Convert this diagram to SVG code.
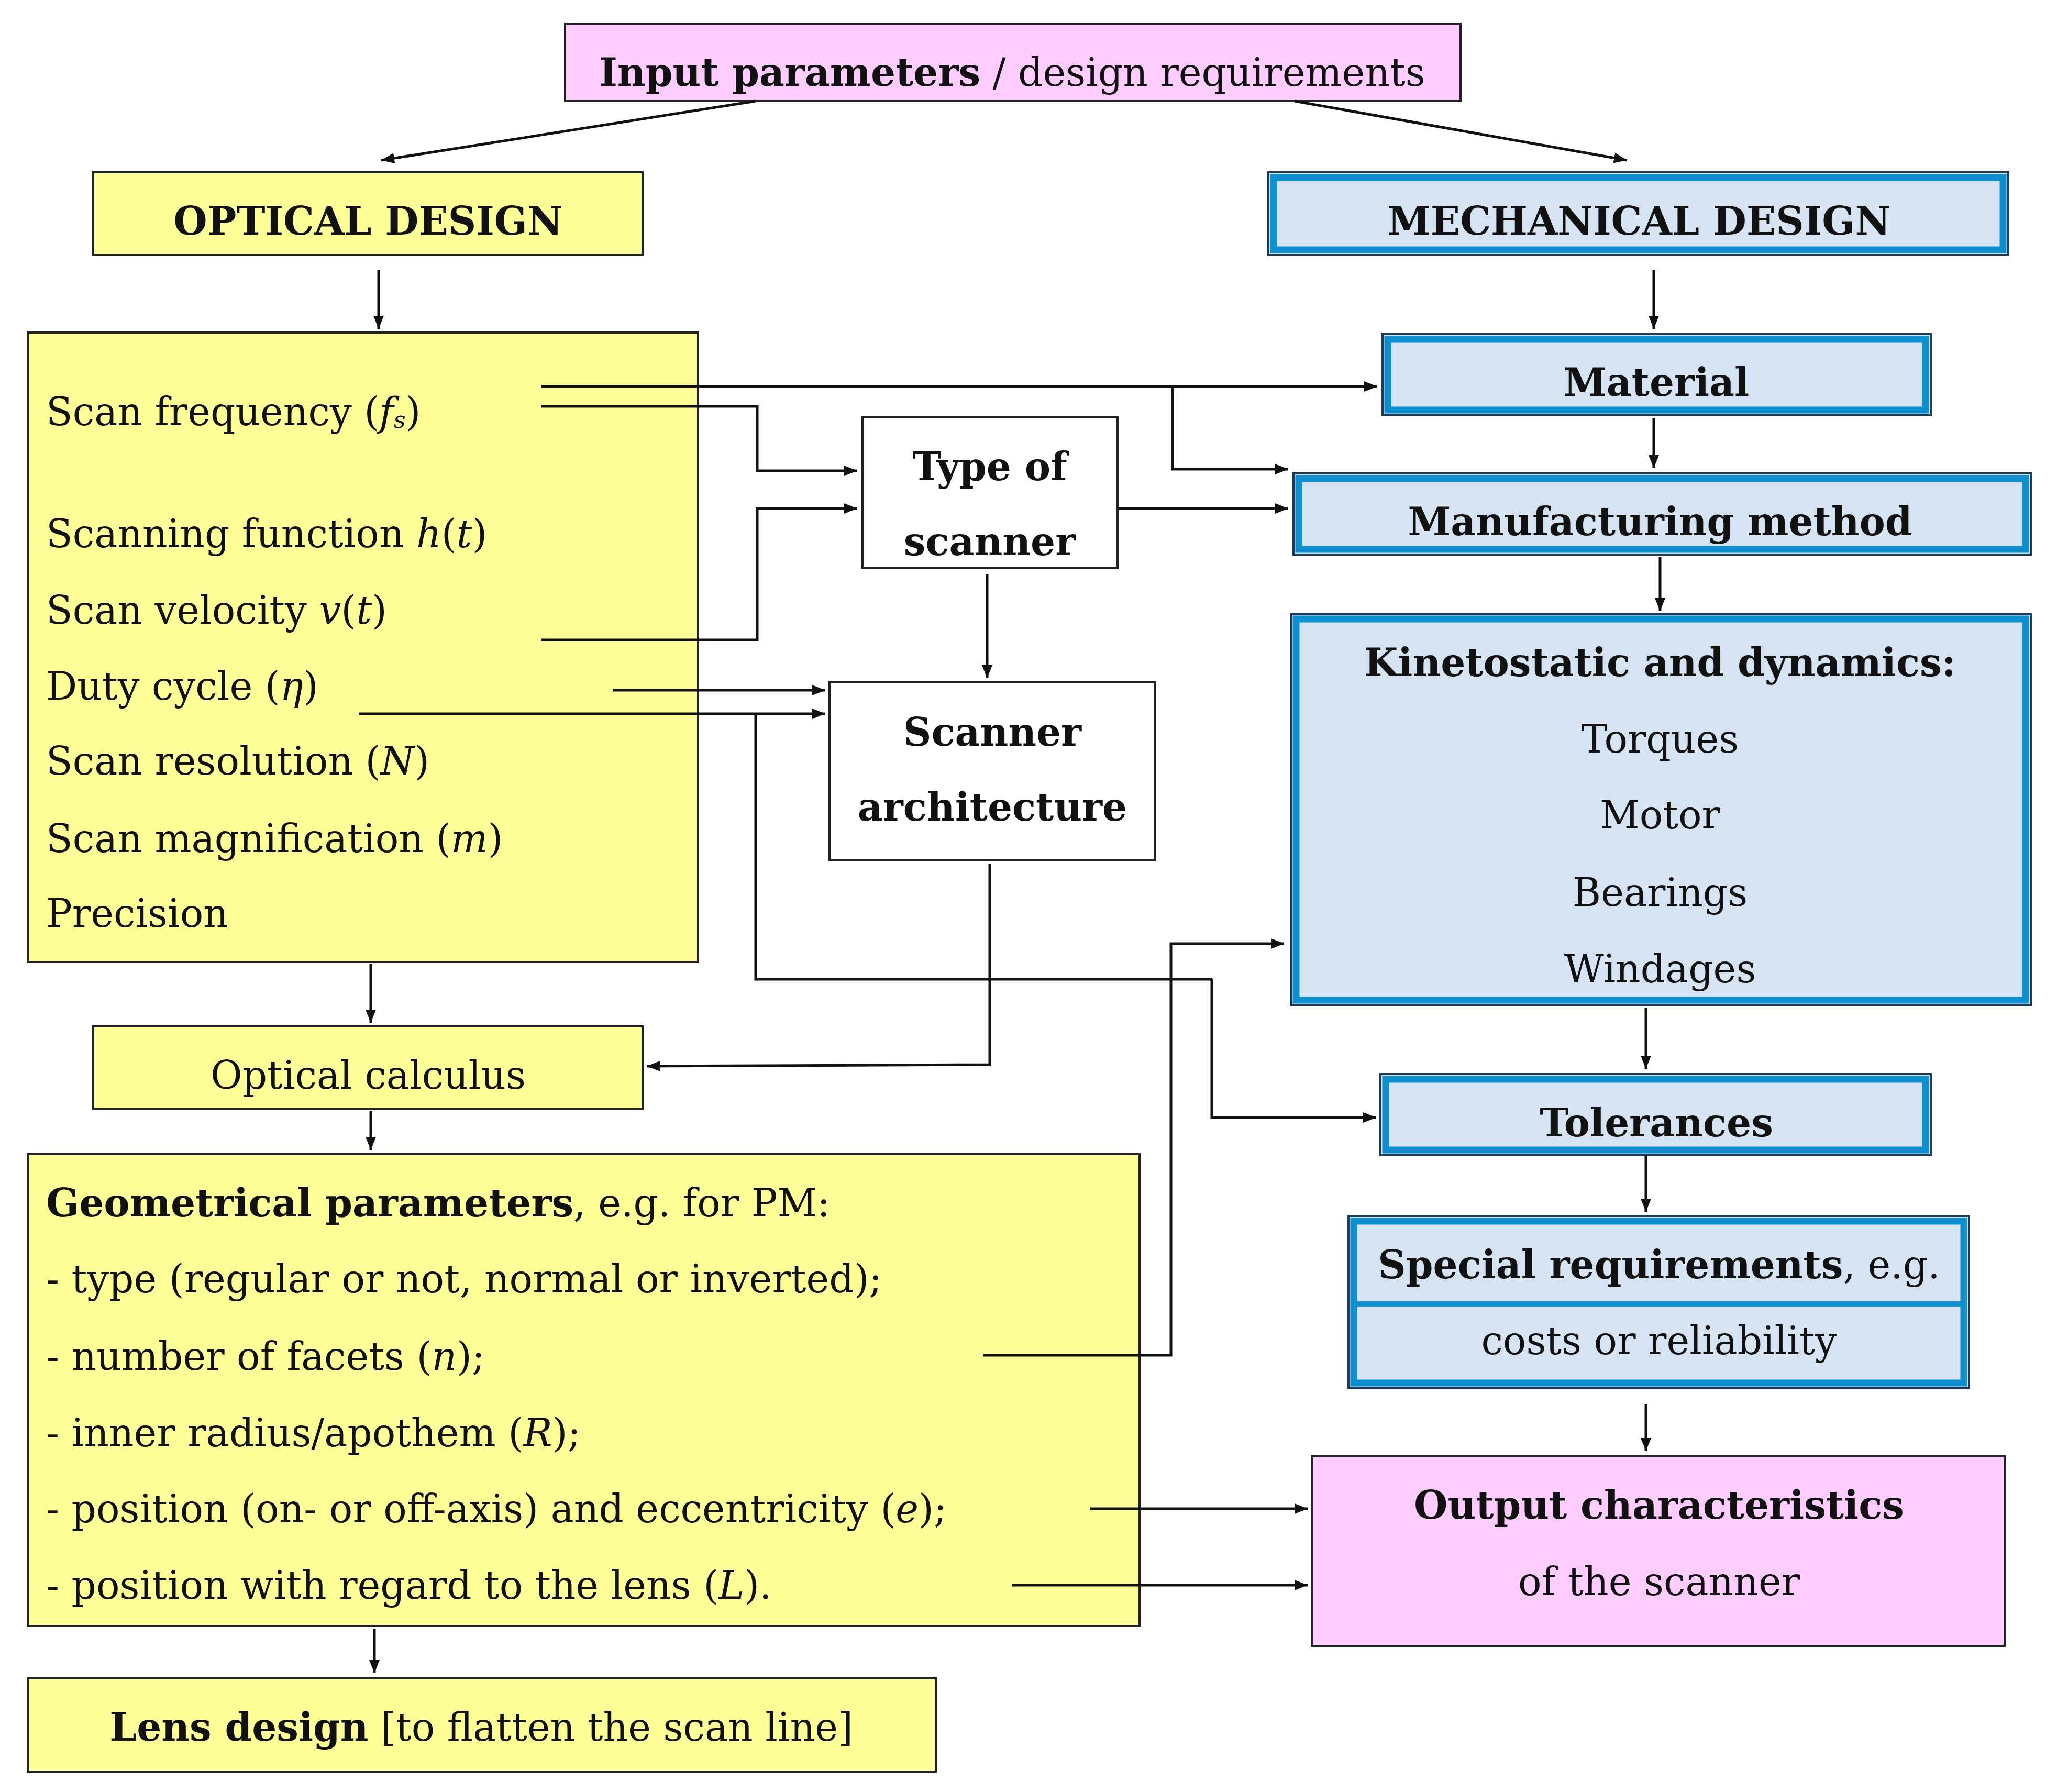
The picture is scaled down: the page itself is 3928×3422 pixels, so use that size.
<svg xmlns="http://www.w3.org/2000/svg" width="3928" height="3422" viewBox="0 0 3928 3422">
<style>
text{font-family:"DejaVu Serif","Liberation Serif",serif;font-size:74px;fill:#111;dominant-baseline:central}
.c{text-anchor:middle}
.b{font-weight:bold}
.i{font-style:italic}
.y{fill:#FFFF99;stroke:#222;stroke-width:4}
.p{fill:#FFCCFF;stroke:#222;stroke-width:4}
.w{fill:#fff;stroke:#222;stroke-width:4}
.bo{fill:#D5E3F3;stroke:#1E3A5A;stroke-width:4}
.bi{fill:none;stroke:#0E8FD0;stroke-width:13}
.l{fill:none;stroke:#111;stroke-width:5;marker-end:url(#a)}
.n{fill:none;stroke:#111;stroke-width:5}
</style>
<defs><marker id="a" viewBox="0 0 10 10" refX="10" refY="5" markerWidth="5" markerHeight="5" orient="auto" markerUnits="strokeWidth"><path d="M0,1 L10,5 L0,9 z" fill="#111"/></marker></defs>
<rect width="3928" height="3422" fill="#fff"/>
<g id="input"><rect class="p" x="1079" y="45" width="1710" height="148"/><text class="c" x="1933" y="138"><tspan class="b">Input parameters</tspan> / design requirements</text></g>
<g id="optical"><rect class="y" x="178" y="329" width="1049" height="158"/><text class="c b" x="703" y="422">OPTICAL DESIGN</text></g>
<g id="mechanical"><rect class="bo" x="2422" y="329" width="1413" height="158"/><rect class="bi" x="2432" y="339" width="1393" height="138"/><text class="c b" x="3130" y="422">MECHANICAL DESIGN</text></g>
<g id="params"><rect class="y" x="53" y="635" width="1280" height="1202"/>
<text x="88" y="786">Scan frequency (<tspan class="i">f</tspan><tspan class="i" font-size="45" dy="15">s</tspan><tspan dy="-15">)</tspan></text>
<text x="88" y="1019">Scanning function <tspan class="i">h</tspan>(<tspan class="i">t</tspan>)</text>
<text x="88" y="1165">Scan velocity <tspan class="i">v</tspan>(<tspan class="i">t</tspan>)</text>
<text x="88" y="1310">Duty cycle (<tspan class="i">η</tspan>)</text>
<text x="88" y="1453">Scan resolution (<tspan class="i">N</tspan>)</text>
<text x="88" y="1601">Scan magnification (<tspan class="i">m</tspan>)</text>
<text x="88" y="1744">Precision</text></g>
<g id="material"><rect class="bo" x="2640" y="638" width="1047" height="155"/><rect class="bi" x="2650" y="648" width="1027" height="135"/><text class="c b" x="3163" y="730">Material</text></g>
<g id="manufacturing"><rect class="bo" x="2470" y="904" width="1408" height="155"/><rect class="bi" x="2480" y="914" width="1388" height="135"/><text class="c b" x="3170" y="996">Manufacturing method</text></g>
<g id="kineto"><rect class="bo" x="2465" y="1172" width="1413" height="748"/><rect class="bi" x="2475" y="1182" width="1393" height="728"/>
<text class="c b" x="3170" y="1265">Kinetostatic and dynamics:</text><text class="c" x="3170" y="1411">Torques</text><text class="c" x="3170" y="1556">Motor</text><text class="c" x="3170" y="1704">Bearings</text><text class="c" x="3170" y="1850">Windages</text></g>
<g id="tolerances"><rect class="bo" x="2636" y="2051" width="1051" height="155"/><rect class="bi" x="2646" y="2061" width="1031" height="135"/><text class="c b" x="3163" y="2144">Tolerances</text></g>
<g id="special"><rect class="bo" x="2575" y="2322" width="1185" height="329"/><rect class="bi" x="2585" y="2332" width="1165" height="309"/><line x1="2592" y1="2490" x2="3744" y2="2490" stroke="#0E8FD0" stroke-width="10"/>
<text class="c" x="3168" y="2415"><tspan class="b">Special requirements</tspan>, e.g.</text><text class="c" x="3168" y="2560">costs or reliability</text></g>
<g id="output"><rect class="p" x="2505" y="2781" width="1323" height="362"/><text class="c b" x="3168" y="2874">Output characteristics</text><text class="c" x="3168" y="3020">of the scanner</text></g>
<g id="type"><rect class="w" x="1647" y="796" width="487" height="288"/><text class="c b" x="1890" y="891">Type of</text><text class="c b" x="1890" y="1034">scanner</text></g>
<g id="arch"><rect class="w" x="1584" y="1303" width="622" height="339"/><text class="c b" x="1895" y="1398">Scanner</text><text class="c b" x="1895" y="1541">architecture</text></g>
<g id="calculus"><rect class="y" x="178" y="1960" width="1049" height="158"/><text class="c" x="703" y="2053">Optical calculus</text></g>
<g id="geometry"><rect class="y" x="53" y="2204" width="2123" height="901"/>
<text x="88" y="2297"><tspan class="b">Geometrical parameters</tspan>, e.g. for PM:</text>
<text x="88" y="2442">- type (regular or not, normal or inverted);</text>
<text x="88" y="2590">- number of facets (<tspan class="i">n</tspan>);</text>
<text x="88" y="2736">- inner radius/apothem (<tspan class="i">R</tspan>);</text>
<text x="88" y="2881">- position (on- or off-axis) and eccentricity (<tspan class="i">e</tspan>);</text>
<text x="88" y="3027">- position with regard to the lens (<tspan class="i">L</tspan>).</text></g>
<g id="lens"><rect class="y" x="53" y="3205" width="1734" height="178"/><text class="c" x="919" y="3298"><tspan class="b">Lens design</tspan> [to flatten the scan line]</text></g>
<g id="connectors">
<path class="l" d="M1443,193 L728,306"/><path class="l" d="M2472,193 L3107,306"/>
<path class="l" d="M723,515 V628"/><path class="l" d="M3158,515 V628"/><path class="l" d="M3158,798 V894"/><path class="l" d="M3170,1064 V1167"/>
<path class="l" d="M3143,1925 V2041"/><path class="l" d="M3143,2206 V2314"/><path class="l" d="M3143,2681 V2771"/>
<path class="l" d="M708,1840 V1953"/><path class="l" d="M708,2121 V2196"/><path class="l" d="M715,3110 V3195"/>
<path class="l" d="M1034,738 H2630"/><path class="l" d="M2239,738 V896 H2460"/>
<path class="l" d="M1034,776 H1446 V899 H1637"/><path class="l" d="M1034,1222 H1446 V971 H1637"/>
<path class="l" d="M2134,971 H2460"/><path class="l" d="M1885,1097 V1295"/>
<path class="l" d="M1170,1318 H1576"/><path class="l" d="M685,1363 H1576"/>
<path class="n" d="M1443,1363 V1870 H2314"/><path class="l" d="M2314,1870 V2134 H2628"/>
<path class="l" d="M1877,2588 H2236 V1802 H2452"/>
<path class="l" d="M1890,1649 V2033 L1235,2036"/>
<path class="l" d="M2081,2881 H2497"/><path class="l" d="M1933,3027 H2497"/>
</g>
</svg>
